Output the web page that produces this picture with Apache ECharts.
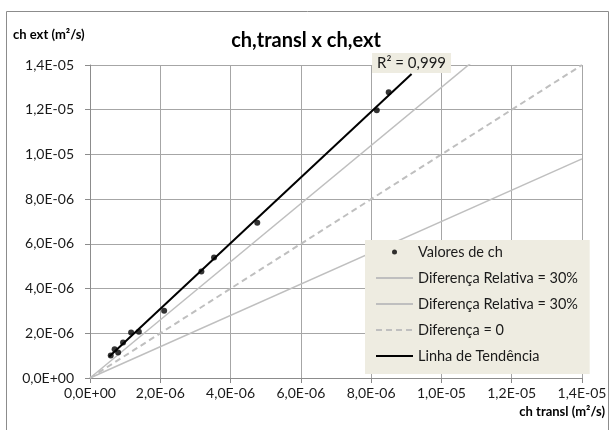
<!DOCTYPE html>
<html>
<head>
<meta charset="utf-8">
<script src="https://cdn.jsdelivr.net/npm/echarts@6/dist/echarts.min.js"></script>
<style>
  html, body { margin: 0; padding: 0; background: #fff; }
  #chart { width: 612px; height: 430px; }
</style>
</head>
<body>
<div id="chart"></div>
<script>
// measured points (m2/s)
const chTransl = [0.59e-6, 0.70e-6, 0.80e-6, 0.94e-6, 1.17e-6, 1.39e-6, 2.11e-6, 3.17e-6, 3.53e-6, 4.76e-6, 8.16e-6, 8.50e-6];
const chExt = [1.01e-6, 1.29e-6, 1.14e-6, 1.59e-6, 2.04e-6, 2.07e-6, 3.01e-6, 4.76e-6, 5.39e-6, 6.94e-6, 11.98e-6, 12.78e-6];

// reference lines (clipped by the axis range)
const refX = [0, 1.4e-5];
const diffPlus30 = [0, 1.82e-5];
const diffMinus30 = [0, 0.98e-5];
const diffZero = [0, 1.4e-5];

// trend line ends
const trendX = [0.55e-6, 9.15e-6];
const trendY = [0.96e-6, 13.6e-6];
const r2Text = 'R² = 0,999';

const tickLabels = ['0,0E+00', '2,0E-06', '4,0E-06', '6,0E-06', '8,0E-06', '1,0E-05', '1,2E-05', '1,4E-05'];

const font = 'Lato, "Noto Sans", sans-serif';
const pairs = (xs, ys) => xs.map((x, i) => [x, ys[i]]);
const noDot = { color: 'transparent', borderWidth: 0 };

const chart = echarts.init(document.getElementById('chart'));

const axisCommon = {
  type: 'value',
  min: 0,
  max: 1.4e-5,
  interval: 2e-6,
  axisLine: { show: true, lineStyle: { color: '#8c8c8c', width: 1 } },
  axisTick: { show: true, length: 5, lineStyle: { color: '#8c8c8c' } },
  splitLine: { show: true, lineStyle: { color: '#a6a6a6', width: 1 } },
  axisLabel: {
    color: '#1a1a1a',
    fontFamily: font,
    fontSize: 14,
    formatter: (v, i) => tickLabels[i]
  }
};

chart.setOption({
  animation: false,
  backgroundColor: '#fff',
  textStyle: { fontFamily: font },
  title: [
    { text: 'ch,transl x ch,ext', left: 'center', top: 31, padding: 0,
      textStyle: { fontFamily: font, fontSize: 20, fontWeight: 'bold', color: '#000' } },
    { text: 'ch ext (m²/s)', left: 13, top: 28, padding: 0,
      textStyle: { fontFamily: font, fontSize: 13, fontWeight: 'bold', color: '#000' } },
    { text: 'ch transl (m²/s)', right: 7, top: 405, padding: 0,
      textStyle: { fontFamily: font, fontSize: 13, fontWeight: 'bold', color: '#000' } }
  ],
  graphic: [{
    type: 'rect', left: 4, top: 9, silent: true,
    shape: { width: 602, height: 440 },
    style: { fill: 'none', stroke: '#8c8c8c', lineWidth: 1 }
  }],
  grid: { left: 90, right: 30, top: 65, bottom: 52 },
  xAxis: Object.assign({}, axisCommon, { axisLabel: Object.assign({}, axisCommon.axisLabel, { margin: 8 }) }),
  yAxis: Object.assign({}, axisCommon, { axisLabel: Object.assign({}, axisCommon.axisLabel, { margin: 16 }) }),
  legend: {
    orient: 'vertical',
    left: 365,
    top: 240,
    backgroundColor: '#eeece1',
    padding: [4, 8, 10, 10],
    itemWidth: 37,
    itemHeight: 5,
    itemGap: 10,
    textStyle: { fontFamily: font, fontSize: 14.5, color: '#1a1a1a', lineHeight: 16 },
    data: [
      { name: 'Valores de ch', icon: 'circle' },
      { name: 'Diferença Relativa = 30%', itemStyle: noDot },
      { name: 'Diferença Relativa = 30% ', itemStyle: noDot },
      { name: 'Diferença = 0', itemStyle: noDot },
      { name: 'Linha de Tendência', itemStyle: noDot }
    ]
  },
  series: [
    {
      name: 'Valores de ch', type: 'scatter', symbol: 'circle', symbolSize: 6,
      itemStyle: { color: '#000' }, z: 3,
      data: pairs(chTransl, chExt)
    },
    {
      name: 'Diferença Relativa = 30%', type: 'line', symbol: 'none', clip: true,
      lineStyle: { color: '#bfbfbf', width: 1.5 }, itemStyle: { color: '#bfbfbf' },
      data: pairs(refX, diffPlus30)
    },
    {
      name: 'Diferença Relativa = 30% ', type: 'line', symbol: 'none', clip: true,
      lineStyle: { color: '#bfbfbf', width: 1.5 }, itemStyle: { color: '#bfbfbf' },
      data: pairs(refX, diffMinus30)
    },
    {
      name: 'Diferença = 0', type: 'line', symbol: 'none', clip: true,
      lineStyle: { color: '#bfbfbf', width: 2, type: [6, 4] }, itemStyle: { color: '#bfbfbf' },
      data: pairs(refX, diffZero)
    },
    {
      name: 'Linha de Tendência', type: 'line', symbol: 'none', z: 4,
      lineStyle: { color: '#000', width: 2 }, itemStyle: { color: '#000' },
      data: pairs(trendX, trendY),
      markPoint: {
        symbol: 'rect', symbolSize: 0.1, silent: true,
        label: {
          show: true, position: 'top', distance: 1,
          formatter: r2Text, fontFamily: font, fontSize: 15, color: '#1a1a1a',
          backgroundColor: '#eeece1', padding: [3, 5, 2, 5]
        },
        data: [{ coord: [trendX[1], trendY[1]] }]
      }
    }
  ]
});
</script>
</body>
</html>
